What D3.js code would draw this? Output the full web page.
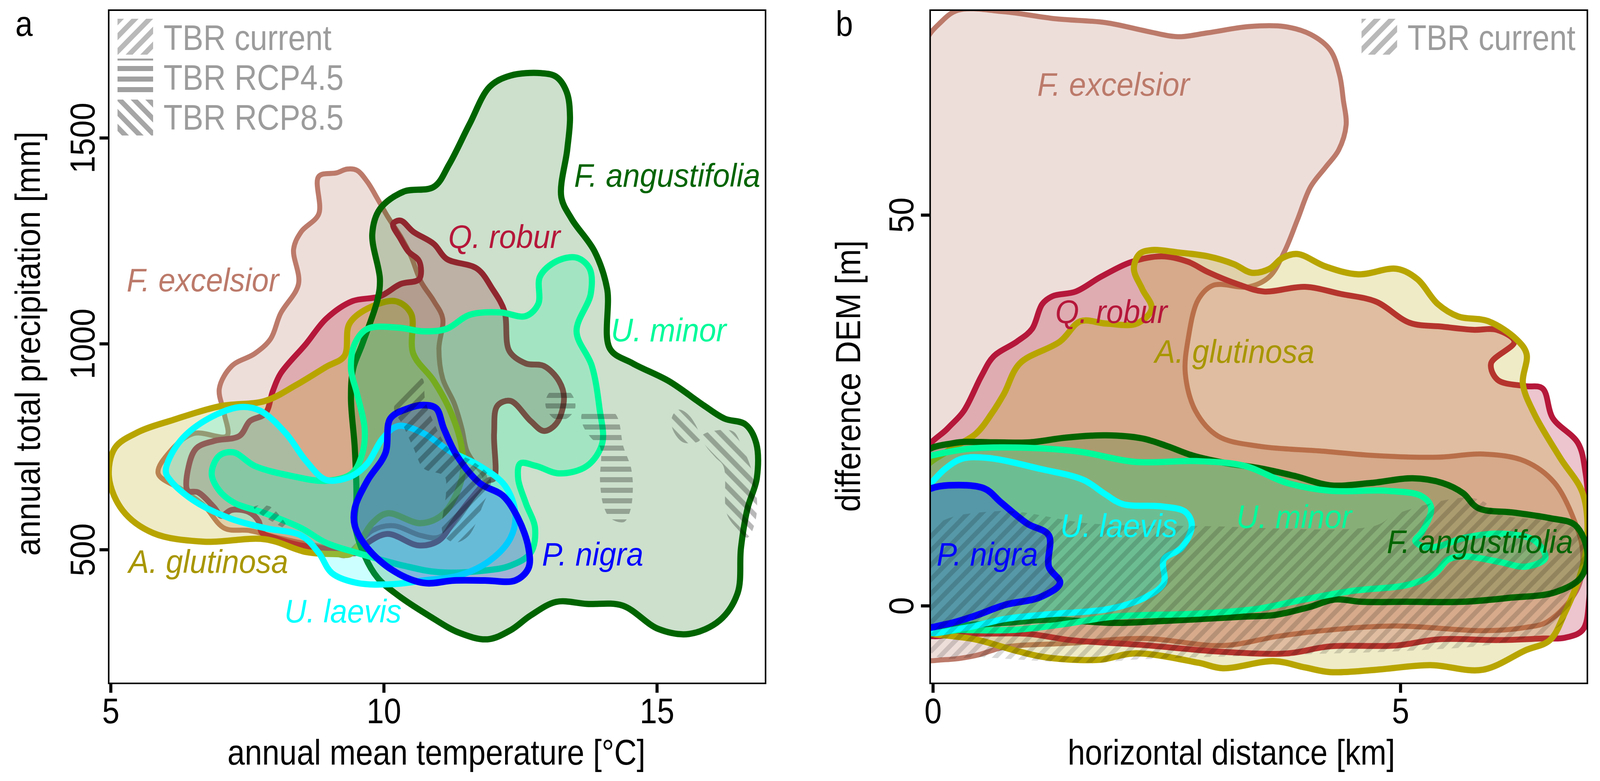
<!DOCTYPE html>
<html><head><meta charset="utf-8">
<script src="https://cdn.jsdelivr.net/npm/d3@7"></script>
<style>html,body{margin:0;padding:0;background:#fff;overflow:hidden}svg{display:block;width:100vw;height:100vh}text{font-family:"Liberation Sans",Arial,sans-serif}</style>
</head><body><svg id="c" viewBox="0 0 4180 2000" preserveAspectRatio="none"></svg>
<script>
// ---------- panel a: annual mean temperature [°C], annual precipitation [mm]
const aAngustifolia=[[12.88,1657],[13.16,1648],[13.35,1611],[13.41,1551],[13.36,1472],[13.25,1357],[13.44,1303],[13.86,1224],[14.09,1133],[14.14,988],[14.56,952],[15.22,909],[15.87,849],[16.24,818],[16.62,804],[16.82,758],[16.83,673],[16.66,600],[16.54,504],[16.48,395],[16.15,328],[15.59,295],[15.03,307],[14.37,364],[13.72,368],[13.16,373],[12.69,340],[12.32,304],[11.90,282],[11.38,298],[10.82,340],[10.26,389],[9.89,431],[9.65,485],[9.47,564],[9.50,625],[9.47,746],[9.40,867],[9.44,939],[9.61,1000],[9.89,1109],[9.93,1157],[9.79,1266],[9.93,1327],[10.36,1369],[10.92,1381],[11.20,1436],[11.57,1533],[11.94,1624],[12.32,1651]];
const aExcelsior=[[8.81,1406],[9.14,1415],[9.33,1424],[9.51,1421],[9.70,1393],[9.89,1351],[10.07,1309],[10.31,1260],[10.50,1212],[10.68,1151],[10.92,1103],[11.08,1061],[11.01,988],[11.08,915],[11.29,855],[11.43,794],[11.52,740],[11.66,709],[11.85,673],[11.62,625],[11.29,564],[11.01,530],[10.68,534],[10.17,558],[9.79,546],[9.51,510],[9.28,485],[8.95,504],[8.49,516],[8.02,530],[7.55,546],[7.08,552],[6.71,607],[6.34,643],[5.87,685],[6.10,740],[6.52,782],[7.13,776],[7.08,830],[6.99,891],[7.22,946],[7.64,976],[7.93,1012],[8.11,1073],[8.44,1145],[8.35,1230],[8.49,1272],[8.81,1315]];
const aRobur=[[10.17,1291],[10.31,1299],[10.54,1272],[10.92,1242],[11.15,1206],[11.71,1182],[11.99,1133],[12.21,1079],[12.30,982],[12.60,952],[12.93,946],[13.21,909],[13.30,867],[13.16,806],[12.93,788],[12.69,812],[12.32,861],[12.08,849],[12.02,782],[12.02,673],[11.90,667],[11.57,619],[11.29,570],[11.01,522],[10.64,510],[10.07,538],[9.70,516],[9.51,492],[9.06,500],[8.41,512],[8.01,528],[7.77,541],[7.71,569],[7.52,592],[7.21,596],[7.03,582],[6.89,603],[6.60,639],[6.41,643],[6.43,703],[6.57,746],[6.90,764],[7.36,776],[7.55,812],[7.83,830],[7.97,885],[8.11,927],[8.58,1000],[8.95,1061],[9.42,1103],[9.93,1115],[10.31,1145],[10.65,1157],[10.65,1200],[10.45,1224],[10.31,1254]];
const aGlutinosa=[[4.97,676],[5.08,747],[5.5,785],[6.15,815],[7.0,848],[7.83,861],[8.39,899],[8.95,944],[9.28,970],[9.37,1048],[9.70,1085],[10.22,1103],[10.50,1073],[10.54,976],[10.92,909],[11.24,830],[11.43,746],[11.43,673],[11.10,588],[10.68,564],[10.07,588],[9.79,564],[9.4,490],[9.14,489],[8.58,494],[7.83,525],[6.71,519],[5.78,540],[5.22,595]];
const aMinor=[[13.53,1209],[13.77,1182],[13.79,1121],[13.53,1030],[13.81,946],[13.95,843],[14.00,758],[13.72,703],[13.21,685],[12.79,703],[12.50,709],[12.46,673],[12.60,613],[12.77,552],[12.69,492],[12.32,461],[11.85,449],[11.01,445],[10.36,461],[9.51,492],[8.95,516],[8.49,552],[7.83,588],[7.27,613],[6.99,643],[6.85,685],[6.99,728],[7.25,736],[7.64,703],[8.30,679],[8.95,667],[9.42,685],[9.61,734],[9.65,794],[9.51,879],[9.40,939],[9.47,1000],[9.70,1036],[10.26,1039],[10.73,1030],[11.15,1036],[11.57,1070],[12.13,1076],[12.60,1067],[12.83,1097],[12.86,1163],[13.16,1200]];
const aLaevis=[[7.36,846],[7.74,837],[8.21,782],[8.58,715],[8.95,669],[9.42,679],[9.70,709],[9.98,770],[10.26,800],[10.73,782],[11.20,740],[11.76,703],[12.22,655],[12.41,588],[12.32,528],[11.94,473],[11.38,437],[10.73,425],[10.17,416],[9.51,419],[9.05,443],[8.81,492],[8.49,534],[7.83,552],[7.18,576],[6.52,619],[6.10,667],[6.01,691],[6.24,758],[6.71,812]];
const aNigra=[[10.73,851],[10.96,843],[11.10,794],[11.34,728],[11.76,661],[12.18,631],[12.46,576],[12.65,504],[12.65,455],[12.41,425],[11.85,425],[11.29,425],[10.73,419],[10.17,449],[9.70,504],[9.47,558],[9.47,600],[9.70,667],[10.03,734],[10.12,818],[10.45,843]];
const aTbrCurrent=[[[10.19,847],[10.70,916],[10.76,863],[10.89,816],[11.20,745],[11.65,713],[11.96,671],[11.80,603],[11.55,533],[11.29,517],[11.08,540],[11.14,639],[11.11,678],[10.73,697],[10.55,745],[10.36,800]],[[7.62,603],[7.91,605],[8.25,550],[7.93,570]]];
const aTbr45=[[[13.05,883],[13.40,883],[13.51,847],[13.35,818],[13.12,818],[12.96,851]],[[13.64,832],[14.22,832],[14.39,749],[14.53,697],[14.56,646],[14.51,593],[14.40,567],[14.15,576],[14.02,608],[13.96,666],[13.96,749],[13.79,772],[13.64,804]]];
const aTbr85=[[[15.28,823],[15.40,840],[15.61,823],[15.79,766],[15.49,760],[15.29,792]],[[15.84,778],[16.38,788],[16.54,757],[16.79,666],[16.82,580],[16.66,529],[16.49,548],[16.28,587],[16.22,702],[16.07,724],[15.87,757]]];
// ---------- panel b: horizontal distance [km], difference DEM [m]
const bExcelsior=[[-0.11,60],[-0.08,72],[0.08,74.6],[0.27,76.2],[0.76,76],[1.31,75.1],[1.85,74.6],[2.29,73.5],[2.62,72.8],[2.94,73.3],[3.38,74.1],[3.76,74.1],[4.04,73.1],[4.25,71.1],[4.35,67.9],[4.39,64.7],[4.42,61.5],[4.34,58.3],[4.20,56.1],[4.04,53.6],[3.90,49.4],[3.76,45.3],[3.60,42.1],[3.38,40.8],[3.00,41],[2.84,39.2],[2.73,34.1],[2.70,29.7],[2.81,24.9],[3.05,21.7],[3.49,20.4],[4.14,19.8],[4.74,19.2],[5.40,19],[5.89,19.4],[6.33,18.5],[6.65,15.7],[6.87,10.6],[6.95,6.8],[6.90,2.3],[6.58,-2],[6.33,-2.8],[5.88,-3.2],[4.95,-2.6],[4.25,-3.1],[3.70,-3.9],[3.10,-5.1],[2.26,-4.2],[1.47,-4.8],[0.77,-5.3],[0.45,-6.4],[0.13,-6.9],[-0.11,-6.6],[-0.11,10]];
const bRobur=[[-0.11,19.2],[0.16,22.7],[0.33,24.9],[0.52,29.4],[0.65,31.9],[0.90,33.8],[1.06,35.4],[1.17,38.6],[1.28,39.6],[1.53,40.2],[1.80,42.1],[2.13,44],[2.45,44.7],[2.73,44],[2.94,42.7],[3.27,41.1],[3.54,40.2],[3.98,40.8],[4.36,39.9],[4.74,38.9],[5.10,36.2],[5.45,35.7],[5.78,35.3],[6.03,35.3],[6.22,33.8],[5.97,31],[6.04,28.9],[6.33,28.1],[6.52,27.8],[6.63,24],[6.90,20.8],[6.98,17],[7.02,10.6],[7.02,1],[6.95,-3.1],[6.76,-4.1],[6.53,-4.2],[6.05,-4.4],[5.41,-4.3],[4.95,-5.1],[4.25,-5.2],[3.79,-6.1],[3.10,-5.9],[2.21,-5],[1.47,-4.4],[1.01,-3.6],[0.31,-3.6],[-0.11,-3.3]];
const bGlutinosa=[[2.15,43.1],[2.21,45],[2.34,45.5],[2.62,45.2],[2.94,44.7],[3.22,43.7],[3.41,42.6],[3.60,43.1],[3.74,44.5],[3.90,45],[4.20,43.4],[4.55,42.4],[4.96,43.1],[5.18,41.8],[5.40,38.6],[5.62,37],[5.94,36.4],[6.24,34.1],[6.35,32.2],[6.31,28.4],[6.43,24.6],[6.71,18.9],[6.95,14.4],[7.00,8.7],[6.93,4.2],[6.76,-0.9],[6.60,-4.4],[6.34,-5.7],[5.88,-8.2],[5.32,-7.6],[4.74,-8.2],[4.25,-8.5],[3.98,-7.9],[3.65,-7.1],[3.10,-8],[2.84,-7.3],[2.16,-6.1],[1.80,-6.9],[1.47,-6.9],[1.15,-6.5],[0.87,-5.7],[0.45,-4.3],[-0.02,-3.6],[-0.11,-3.4],[-0.11,17],[0.16,19.8],[0.46,22],[0.63,24.6],[0.76,27.1],[0.93,31],[1.36,33.8],[1.58,36.4],[1.85,36.1],[2.18,36.1],[2.34,38],[2.24,40.5]];
const bAngustifolia=[[-0.11,19.2],[0.22,20.8],[0.65,20.9],[1.04,20.9],[1.42,21.5],[1.85,21.8],[2.24,21.4],[2.51,20.4],[2.78,19.2],[3.11,18.3],[3.49,17.6],[3.87,16.6],[4.25,15.4],[4.69,15.7],[5.13,16.3],[5.45,15.7],[5.67,14.4],[5.83,12.5],[6.22,11.9],[6.60,11.2],[6.87,10.3],[7.00,6.8],[6.93,3.6],[6.65,1.7],[6.16,1],[5.67,0.5],[5.07,0.5],[4.58,0.5],[4.30,0.8],[4.02,-0.2],[3.65,-1.2],[3.33,-1.4],[2.40,-2],[1.94,-2.2],[1.24,-1.8],[0.77,-2.2],[0.22,-2.5],[-0.11,-2.3]];
const bMinor=[[-0.11,18.9],[-0.02,19.2],[0.40,20.1],[1.01,20.2],[1.57,19.7],[2.16,18.4],[2.82,18.5],[3.33,17.9],[3.79,15.7],[4.25,14.7],[4.86,14.7],[5.23,14],[5.33,12.5],[5.23,9.4],[5.16,8.3],[5.26,7.5],[5.41,7.6],[5.69,8.7],[6.11,9.2],[6.44,8.3],[6.55,6.1],[6.34,5],[6.06,5.6],[5.69,6.3],[5.51,5.9],[5.37,4.1],[5.09,2.7],[4.49,1.9],[3.93,0.7],[3.47,-0.4],[2.86,-1],[1.94,-1.4],[1.38,-2.4],[0.87,-3.1],[0.31,-3.1],[-0.11,-2.9]];
const bLaevis=[[-0.11,14.7],[-0.02,15.7],[0.13,17.5],[0.31,18.8],[0.59,18.9],[1.15,17.5],[1.61,16.1],[1.84,14.3],[2.03,13],[2.45,12.7],[2.70,12],[2.77,10.3],[2.66,7.4],[2.47,5.9],[2.47,2.9],[2.26,1],[1.89,-0.4],[1.24,-1.1],[0.77,-1.7],[0.31,-2.9],[-0.11,-3]];
const bNigra=[[-0.11,14.4],[-0.02,15],[0.17,15.4],[0.55,15],[0.73,13.2],[1.01,10.5],[1.24,9],[1.24,5],[1.36,2.9],[1.15,1.1],[0.77,0.1],[0.45,-1.3],[0.13,-2.4],[-0.11,-2.5]];
const bTbrCurrent=[[[-0.02,9.6],[0.68,12.1],[1.70,10.5],[2.86,10.2],[4.72,10.2],[4.95,11.7],[5.65,13.8],[5.88,13.4],[6.06,11.7],[6.81,10.3],[6.95,8],[6.95,4.7],[6.85,1.4],[6.72,-2.4],[6.06,-4.8],[5.19,-5.7],[4.02,-6.2],[2.16,-6.9],[1.70,-7.3],[0.55,-6.6],[-0.02,-6]]];
const xTicksA=[5,10,15], yTicksA=[500,1000,1500], xTicksB=[0,5], yTicksB=[0,50];
const legendLabels=["TBR current","TBR RCP4.5","TBR RCP8.5"];
const speciesNames=["F. excelsior","Q. robur","A. glutinosa","F. angustifolia","U. minor","U. laevis","P. nigra"];
const speciesColors=["#bc7a6a","#b5173a","#b8a500","#006400","#00fa9a","#00ffff","#0000ff"];
const labelColors=["#bc7a6a","#b5173a","#a89600","#006400","#00fa9a","#00ffff","#0000ff"];
const strokeWidths=[13,15,16,16,16,16,17];
const fillOps=[0.25,0.25,0.22,0.2,0.2,0.2,0.2];
const polysA=[aExcelsior,aRobur,aGlutinosa,aAngustifolia,aMinor,aLaevis,aNigra];
const polysB=[bExcelsior,bRobur,bGlutinosa,bAngustifolia,bMinor,bLaevis,bNigra];
// label anchors (page position)
const labelPosA=[[331,746],[1171,635],[336,1467],[1500,478],[1596,874],[743,1594],[1416,1448]];
const labelPosB=[[2710,245],[2757,827],[3017,929],[3623,1416],[3230,1352],[2770,1375],[2447,1448]];

const svg=d3.select("#c"), defs=svg.append("defs");
function pat(id,angle,period,thick,fill,op){
  const p=defs.append("pattern").attr("id",id).attr("patternUnits","userSpaceOnUse")
    .attr("width",period).attr("height",period).attr("patternTransform",`rotate(${angle})`);
  p.append("rect").attr("x",0).attr("y",(period-thick)/2).attr("width",period).attr("height",thick).attr("fill",fill).attr("fill-opacity",op);
}
pat("hCur",-45,28,13,"#000",0.28); pat("h45",0,27,13,"#000",0.28); pat("h85",45,28,13,"#000",0.28);
pat("hCurB",-45,26,12,"#000",0.15);
pat("lCur",-45,27,13,"#b9b9b9",1); pat("l45",0,27,13,"#a0a0a0",1); pat("l85",45,27,13,"#a6a6a6",1);

const FS=90, SX=0.905;
function txt(g,s,x,y,o={}){
  const r=o.rot?`rotate(${o.rot})`:"";
  return g.append("text").text(s).attr("transform",`translate(${x},${y}) ${r} scale(${o.sx||SX},1)`)
    .attr("font-size",o.fs||FS).attr("fill",o.fill||"#000").attr("font-style",o.it?"italic":"normal")
    .attr("text-anchor",o.anchor||"start");
}
const line=(x,y)=>d3.line().x(d=>x(d[0])).y(d=>y(d[1])).curve(d3.curveCatmullRomClosed.alpha(0.5));
const LT=26, LB=1750;
function panel(id,x0,x1,xd,yd,polys,labels,hatches,hatchCls,xt,yt,xTitle,yTitle,yTitleX,yTitleY,xTitleX,letter,letterX,yTickX){
  const x=d3.scaleLinear().domain(xd).range([x0,x1]), y=d3.scaleLinear().domain(yd).range([LB,LT]);
  defs.append("clipPath").attr("id","clip"+id).append("rect").attr("x",x0).attr("y",LT).attr("width",x1-x0).attr("height",LB-LT);
  const plot=svg.append("g").attr("clip-path",`url(#clip${id})`), path=line(x,y);
  polys.forEach((p,i)=>{
    plot.append("path").datum(p).attr("d",path).attr("fill",speciesColors[i]).attr("fill-opacity",fillOps[i])
      .attr("stroke",speciesColors[i]).attr("stroke-width",strokeWidths[i]).attr("stroke-linejoin","round");
  });
  hatches.forEach((set,k)=>set.forEach(p=>{
    plot.append("path").datum(p).attr("d",path).attr("fill",`url(#${hatchCls[k]})`);
  }));
  labels.forEach((l,i)=>txt(svg,speciesNames[i],l[0],l[1],{it:true,fill:labelColors[i],fs:84,sx:0.95}));
  svg.append("rect").attr("x",x0).attr("y",LT).attr("width",x1-x0).attr("height",LB-LT).attr("fill","none").attr("stroke","#000").attr("stroke-width",4);
  const ax=svg.append("g").attr("transform",`translate(0,${LB})`).call(d3.axisBottom(x).tickValues(xt).tickSize(24).tickFormat(d3.format("d")));
  ax.select(".domain").remove(); ax.selectAll("line").attr("stroke","#000").attr("stroke-width",8);
  ax.selectAll("text").attr("y",0).attr("dy",0).attr("font-size",FS).attr("fill","#000").attr("text-anchor","middle").attr("transform",`translate(0,102) scale(${SX},1)`);
  const ay=svg.append("g").attr("transform",`translate(${x0},0)`).call(d3.axisLeft(y).tickValues(yt).tickSize(24).tickFormat(d3.format("d")));
  ay.select(".domain").remove(); ay.selectAll("line").attr("stroke","#000").attr("stroke-width",8);
  ay.selectAll("g.tick").each(function(){
    const t=d3.select(this).select("text");
    t.attr("x",0).attr("dy",0).attr("font-size",FS).attr("fill","#000").attr("text-anchor","middle")
     .attr("transform",`translate(${yTickX-x0},0) rotate(-90) scale(${SX},1)`);
  });
  txt(svg,xTitle,xTitleX,1958,{anchor:"middle"});
  txt(svg,yTitle,yTitleX,yTitleY,{anchor:"middle",rot:-90});
  txt(svg,letter,letterX,92);
}
panel("a",284,2000,[4.965,16.99],[175,1810],polysA,labelPosA,[aTbrCurrent,aTbr45,aTbr85],["hCur","h45","h85"],xTicksA,yTicksA,"annual mean temperature [°C]","annual total precipitation [mm]",104,880,1140,"a",40,247);
panel("b",2430,4147,[-0.029,7.0],[-9.94,76.2],polysB,labelPosB,[bTbrCurrent],["hCurB"],xTicksB,yTicksB,"horizontal distance [km]","difference DEM [m]",2247,963,3217,"b",2183,2386);

function legend(xs,ys,w,h,xt,yt,labels,ids){
  labels.forEach((l,i)=>{
    svg.append("rect").attr("x",xs).attr("y",ys[i]).attr("width",w).attr("height",h).attr("fill",`url(#${ids[i]})`);
    txt(svg,l,xt,yt[i],{fill:"#9c9c9c"});
  });
}
legend(307,[48,150,255],93,92,427,[128,230,332],legendLabels,["lCur","l45","l85"]);
legend(3557,[48],93,92,3677,[128],legendLabels.slice(0,1),["lCur"]);
</script></body></html>
